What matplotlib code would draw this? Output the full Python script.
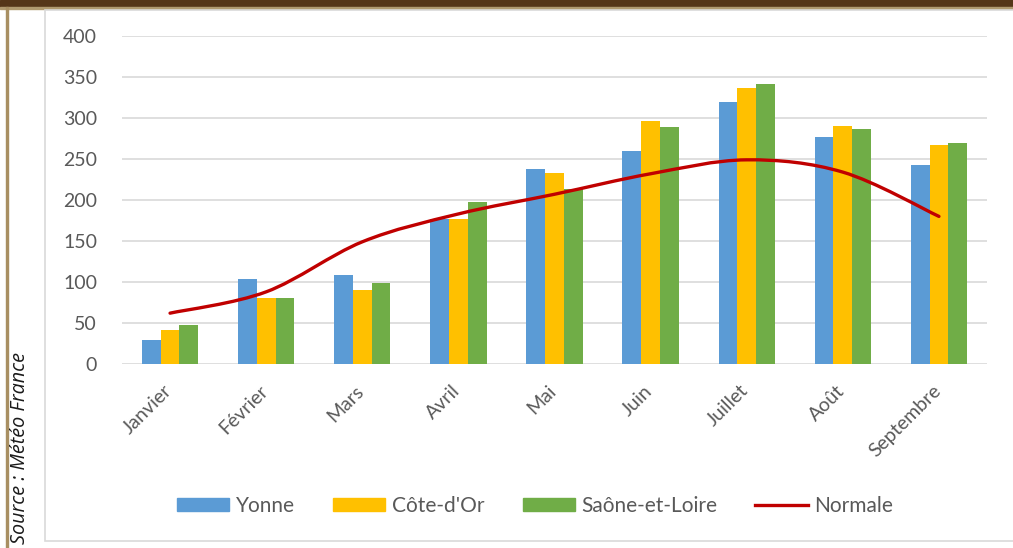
import numpy as np
import matplotlib.pyplot as plt
from matplotlib.path import Path
from matplotlib.patches import PathPatch, Rectangle
from matplotlib.lines import Line2D
from matplotlib.transforms import ScaledTranslation

plt.rcParams['font.family'] = ['Lato', 'DejaVu Sans']

mois = ['Janvier', 'Février', 'Mars', 'Avril', 'Mai', 'Juin', 'Juillet', 'Août', 'Septembre']
yonne = [29, 104, 108, 177, 238, 260, 319, 277, 243]
cote_dor = [41, 80, 90, 177, 233, 296, 336, 290, 267]
saone_loire = [47, 81, 99, 197, 213, 289, 341, 287, 270]
normale = [62, 88, 149, 183, 207, 232, 249, 234, 180]

W, H = 1013, 548
fig = plt.figure(figsize=(W / 100, H / 100), dpi=100)

# cadre de la page
fig.patches.append(Rectangle((0, 1 - 7 / H), 1, 7 / H, transform=fig.transFigure,
                             color='#553619', zorder=-10))
fig.patches.append(Rectangle((0, 1 - 9 / H), 1, 2 / H, transform=fig.transFigure,
                             color='#B09A70', zorder=-10))
fig.patches.append(Rectangle((6 / W, 0), 2 / W, 1 - 7 / H, transform=fig.transFigure,
                             color='#A88F62', zorder=-10))
fig.patches.append(Rectangle((45 / W, 1 - 541 / H), 1, (541 - 10) / H,
                             transform=fig.transFigure, facecolor='white',
                             edgecolor='#D9D9D9', lw=1.2, zorder=-10))

ax = fig.add_axes([122 / W, 1 - 364 / H, (987 - 122) / W, (364 - 36) / H])
ax.set_facecolor('none')
ax.set_zorder(5)

x = np.arange(len(mois))
bw = 0.195
ax.bar(x - bw, yonne, bw, color='#5B9BD5', label='Yonne', zorder=2)
ax.bar(x, cote_dor, bw, color='#FFC000', label="Côte-d'Or", zorder=2)
ax.bar(x + bw, saone_loire, bw, color='#70AD47', label='Saône-et-Loire', zorder=2)

# courbe lissée (style Excel) passant par les valeurs normales
pts = np.column_stack([x, normale]).astype(float)
ext = np.vstack([pts[0], pts, pts[-1]])
verts = [tuple(pts[0])]
codes = [Path.MOVETO]
for i in range(len(pts) - 1):
    p0, p1, p2, p3 = ext[i], ext[i + 1], ext[i + 2], ext[i + 3]
    c1 = p1 + (p2 - p0) / 6
    c2 = p2 - (p3 - p1) / 6
    verts += [tuple(c1), tuple(c2), tuple(p2)]
    codes += [Path.CURVE4] * 3
ax.add_patch(PathPatch(Path(verts, codes), facecolor='none', edgecolor='#C00000',
                       lw=2.4, zorder=3, capstyle='round'))

ax.set_xlim(-0.5, len(mois) - 0.5)
ax.set_ylim(0, 400)
ax.set_yticks(range(0, 401, 50))
ax.yaxis.grid(True, color='#D9D9D9', lw=1.2, zorder=0)
for s in ax.spines.values():
    s.set_visible(False)
ax.tick_params(axis='both', length=0, colors='#595959', labelsize=14)
ax.tick_params(axis='y', pad=18)
ax.tick_params(axis='x', pad=13)
ax.set_xticks(x)
ax.set_xticklabels(mois, rotation=45, ha='right', rotation_mode='anchor')
shift = ScaledTranslation(-7 / 100, 0, fig.dpi_scale_trans)
for lab in ax.get_xticklabels():
    lab.set_transform(lab.get_transform() + shift)

handles = [Rectangle((0, 0), 1, 1, color='#5B9BD5'),
           Rectangle((0, 0), 1, 1, color='#FFC000'),
           Rectangle((0, 0), 1, 1, color='#70AD47'),
           Line2D([], [], color='#C00000', lw=2.4)]
leg = fig.legend(handles, ['Yonne', "Côte-d'Or", 'Saône-et-Loire', 'Normale'],
                 loc='center', bbox_to_anchor=(535 / W, 1 - 506 / H), ncol=4,
                 frameon=False, fontsize=15, handlelength=2.5, handleheight=0.6,
                 handletextpad=0.3, columnspacing=1.85)
for t in leg.get_texts():
    t.set_color('#595959')

fig.text(20 / W, 1 - 544 / H, 'Source : Météo France', rotation=90, style='italic',
         fontsize=14.2, ha='center', va='bottom', color='#1A1A1A',
         family=['Open Sans', 'DejaVu Sans'])

fig.savefig('out.png', dpi=100)
